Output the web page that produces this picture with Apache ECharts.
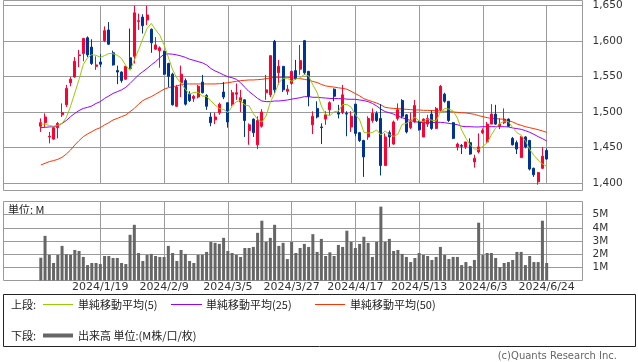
<!DOCTYPE html>
<html><head><meta charset="utf-8">
<script src="https://cdn.jsdelivr.net/npm/echarts@6/dist/echarts.min.js"></script>
<style>html,body{margin:0;padding:0;background:#fff}#c{width:638px;height:362px}</style>
</head><body><div id="c"></div>
<script>
const dates = ['2023/12/26','2023/12/27','2023/12/28','2023/12/29',
'2024/1/4','2024/1/5','2024/1/9','2024/1/10','2024/1/11','2024/1/12','2024/1/15','2024/1/16','2024/1/17','2024/1/18','2024/1/19',
'2024/1/22','2024/1/23','2024/1/24','2024/1/25','2024/1/26','2024/1/29','2024/1/30','2024/1/31','2024/2/1','2024/2/2','2024/2/5','2024/2/6','2024/2/7','2024/2/8','2024/2/9',
'2024/2/13','2024/2/14','2024/2/15','2024/2/16','2024/2/19','2024/2/20','2024/2/21','2024/2/22','2024/2/26','2024/2/27','2024/2/28','2024/2/29','2024/3/1','2024/3/4','2024/3/5',
'2024/3/6','2024/3/7','2024/3/8','2024/3/11','2024/3/12','2024/3/13','2024/3/14','2024/3/15','2024/3/18','2024/3/19','2024/3/21','2024/3/22','2024/3/25','2024/3/26','2024/3/27',
'2024/3/28','2024/3/29','2024/4/1','2024/4/2','2024/4/3','2024/4/4','2024/4/5','2024/4/8','2024/4/9','2024/4/10','2024/4/11','2024/4/12','2024/4/15','2024/4/16','2024/4/17',
'2024/4/18','2024/4/19','2024/4/22','2024/4/23','2024/4/24','2024/4/25','2024/4/26','2024/4/30','2024/5/1','2024/5/2','2024/5/7','2024/5/8','2024/5/9','2024/5/10','2024/5/13',
'2024/5/14','2024/5/15','2024/5/16','2024/5/17','2024/5/20','2024/5/21','2024/5/22','2024/5/23','2024/5/24','2024/5/27','2024/5/28','2024/5/29','2024/5/30','2024/5/31','2024/6/3',
'2024/6/4','2024/6/5','2024/6/6','2024/6/7','2024/6/10','2024/6/11','2024/6/12','2024/6/13','2024/6/14','2024/6/17','2024/6/18','2024/6/19','2024/6/20','2024/6/21','2024/6/24'];

const opens = [1480,1485,1465,1462,1478,1496,1510,1541,1549,1579,
1582,1604,1591,1564,1570,1600,1615,1583,1558,1556,
1546,1576,1578,1627,1633,1629,1616,1588,1586,1585,
1568,1553,1508,1541,1544,1525,1519,1521,1542,1523,
1493,1489,1499,1528,1513,1511,1525,1514,1517,1474,
1490,1454,1480,1527,1524,1599,1555,1564,1529,1540,
1558,1560,1600,1557,1482,1505,1479,1490,1503,1532,
1499,1499,1498,1479,1511,1471,1460,1465,1488,1498,
1491,1425,1471,1455,1491,1516,1496,1478,1486,1486,
1465,1483,1497,1477,1503,1525,1515,1485,1451,1453,
1451,1457,1430,1444,1471,1458,1483,1497,1480,1485,
1490,1463,1457,1436,1465,1460,1421,1402,1421,1446];
const highs = [1491,1498,1472,1479,1486,1512,1538,1549,1577,1587,
1604,1606,1602,1578,1581,1620,1626,1586,1565,1557,
1564,1617,1649,1638,1637,1649,1617,1605,1592,1586,
1569,1555,1538,1565,1547,1529,1524,1538,1552,1525,
1499,1499,1513,1542,1513,1531,1540,1531,1518,1484,
1491,1494,1504,1552,1579,1601,1573,1564,1538,1558,
1573,1594,1601,1557,1501,1515,1484,1501,1515,1533,
1510,1538,1501,1501,1511,1472,1461,1494,1505,1501,
1511,1470,1474,1488,1512,1518,1497,1499,1517,1488,
1491,1496,1502,1507,1538,1527,1515,1486,1457,1455,
1458,1463,1440,1470,1477,1486,1511,1510,1491,1505,
1491,1465,1460,1466,1466,1461,1422,1416,1451,1449];
const lows = [1472,1479,1456,1461,1463,1493,1507,1536,1548,1563,
1571,1577,1566,1559,1563,1598,1594,1565,1539,1541,
1545,1560,1568,1615,1610,1622,1583,1587,1562,1552,
1535,1509,1507,1521,1509,1514,1514,1519,1526,1503,
1480,1483,1496,1518,1478,1508,1517,1500,1465,1454,
1465,1448,1478,1517,1521,1526,1538,1528,1524,1538,
1545,1552,1552,1508,1469,1491,1455,1482,1496,1515,
1491,1497,1466,1472,1466,1458,1409,1461,1485,1486,
1411,1425,1451,1454,1488,1491,1470,1476,1485,1474,
1465,1479,1475,1476,1501,1513,1486,1462,1446,1441,
1448,1440,1422,1442,1469,1457,1483,1482,1476,1483,
1479,1453,1441,1436,1449,1418,1409,1398,1420,1433];
const closes = [1485,1493,1466,1478,1484,1499,1533,1546,1571,1580,
1603,1580,1568,1566,1567,1614,1595,1566,1556,1544,
1564,1561,1639,1628,1621,1636,1597,1594,1590,1553,
1550,1510,1535,1553,1511,1516,1522,1536,1527,1508,
1485,1493,1511,1521,1486,1527,1527,1520,1488,1482,
1471,1488,1500,1531,1579,1531,1564,1531,1532,1557,
1547,1572,1555,1522,1494,1493,1478,1496,1513,1522,
1497,1524,1497,1494,1470,1460,1437,1491,1498,1488,
1425,1465,1465,1486,1503,1494,1472,1486,1509,1475,
1490,1491,1477,1505,1536,1515,1488,1463,1455,1452,
1458,1441,1435,1451,1474,1483,1497,1483,1483,1490,
1480,1454,1448,1465,1451,1420,1412,1415,1438,1434];

const ma5 = [1483,1483,1481,1480,1481.2,1484,1492,1508,1526.6,1545.8,
1566.6,1576,1580.4,1579.4,1576.8,1579,1582,1581.6,1579.6,1575,
1565,1558.2,1572.8,1587.2,1602.6,1617,1624.2,1615.2,1607.6,1594,
1576.8,1559.4,1547.6,1540.2,1531.8,1525,1527.4,1527.6,1522.4,1521.8,
1515.6,1509.8,1504.8,1503.6,1499.2,1507.6,1514.4,1516.2,1509.6,1508.8,
1497.6,1489.8,1485.8,1494.4,1513.8,1525.8,1541,1547.2,1547.4,1543,
1546.2,1547.8,1552.6,1550.6,1538,1527.2,1508.4,1496.6,1494.8,1500.4,
1501.2,1510.4,1510.6,1506.8,1496.4,1489,1471.6,1470.4,1471.2,1474.8,
1467.8,1473.4,1468.2,1465.8,1468.8,1482.6,1484,1488.2,1492.8,1487.2,
1486.4,1490.2,1488.4,1487.6,1499.8,1504.8,1504.2,1501.4,1491.4,1474.6,
1463.2,1453.8,1448.2,1447.4,1451.8,1456.8,1468,1477.6,1484,1487.2,
1486.6,1478,1471,1467.4,1459.6,1447.6,1439.2,1432.6,1427.2,1423.8];
const ma25 = [1478,1478.5,1479,1479.4,1480.8,1484,1488,1493.5,1498,1502,
1505,1506.5,1508.4,1512,1514.5,1519,1522.4,1526,1528.5,1531,
1534.6,1540,1546,1552,1556.5,1561,1566,1570.6,1576,1581,
1581.5,1581,1580,1578.5,1576.6,1574,1572.4,1570.6,1569,1566,
1561,1557.5,1555,1552,1549.5,1548,1545.8,1541,1534.6,1528.5,
1524,1519,1515.4,1514.5,1514.5,1515.4,1515.4,1516,1516.8,1518,
1519,1520,1521.5,1521.5,1520.6,1520.6,1520,1519.6,1519,1519,
1518.7,1518.7,1518,1517.8,1517.8,1516.8,1516,1514.5,1512,1508.4,
1504,1500.5,1499,1497,1494.4,1492,1490,1488,1486.4,1485.5,
1485,1485,1485,1485.5,1485.5,1485,1484,1483,1482.2,1480,
1479.4,1479.4,1479,1479,1479.4,1479.4,1479.4,1479.4,1479.4,1479.4,
1479,1477.6,1476.6,1475.7,1473.8,1471.5,1468.7,1465.4,1462.6,1459.3];
const ma50 = [1425.7,1428,1430.4,1431.8,1433.6,1436.4,1441,1446.7,1453.7,1459.8,
1465.4,1469.2,1472.4,1475.7,1478,1481.8,1485,1488.8,1491,1493.5,
1495.8,1500.5,1505,1511,1515.9,1519,1521.5,1525,1528.5,1532,
1534,1535.5,1536.4,1538.3,1539.3,1539.3,1539.3,1539.3,1539.3,1539.3,
1539.3,1539.3,1539.7,1540.2,1541,1542,1543,1544,1544.4,1544.9,
1544.9,1545.3,1545.8,1546.7,1547.7,1548.6,1548.6,1548.6,1548.6,1548,
1547,1546.7,1545.8,1544.5,1542.8,1541.3,1538.6,1536.6,1535.6,1534.9,
1533.9,1533.1,1531.9,1529,1525.8,1522.6,1518.6,1516.5,1514.6,1512.5,
1510,1506.5,1505.6,1505,1504.7,1504.2,1503.7,1503.3,1502.8,1502.8,
1502.3,1502.3,1501.9,1501.9,1501.4,1501,1500.5,1500,1499.5,1499,
1498.6,1497.7,1496.7,1494.9,1493.5,1492,1491,1490.7,1490.2,1489.7,
1487.9,1486,1483.2,1481.3,1479.4,1478,1476.6,1475.2,1473.4,1471.5];
const volumes = [1.73,3.39,1.94,1.33,1.94,2.63,1.99,1.94,2.32,2.24,
1.79,1.17,1.33,1.33,1.25,1.86,1.86,1.71,1.71,1.33,
1.25,3.47,4.23,2.09,1.48,1.94,2.02,1.86,1.79,1.79,
2.63,2.09,1.48,2.32,2.02,1.48,1.33,1.94,1.94,2.17,
2.93,2.86,2.78,3.24,2.24,2.09,1.94,1.79,2.47,2.47,
2.55,3.62,4.54,2.93,3.24,4.23,2.63,2.86,1.63,2.93,
2.09,2.47,2.78,2.55,3.52,2.17,3.16,1.86,2.14,1.86,
2.70,2.55,3.78,2.93,2.47,2.78,3.32,2.86,1.79,2.93,
5.61,2.93,3.16,2.24,2.32,2.02,1.79,1.40,1.71,2.09,
1.94,1.86,1.56,1.79,2.55,1.94,1.63,1.79,1.79,1.17,
1.40,1.10,1.56,4.39,1.94,2.09,2.09,1.71,1.02,1.33,
1.40,1.56,2.17,2.17,1.17,1.86,1.40,1.40,4.54,1.33];

const xTickDates = ['2024/1/19','2024/2/9','2024/3/5','2024/3/27','2024/4/17','2024/5/13','2024/6/3','2024/6/24'];
const priceMin = 1400, priceMax = 1650, priceStep = 50;
const volMin = 0, volMax = 6, volStep = 1;
const volLabelled = [1,2,3,4,5];

const PAD_L = 9, PAD_R = 9;
const cats = [];
for (let i = 0; i < PAD_L; i++) cats.push('_l' + i);
dates.forEach(d => cats.push(d));
for (let i = 0; i < PAD_R; i++) cats.push('_r' + i);
const pad = Array(PAD_L).fill('-');
const candleData = pad.concat(dates.map((d, i) => [opens[i], closes[i], lows[i], highs[i]]));
const ma5Data = pad.concat(ma5), ma25Data = pad.concat(ma25), ma50Data = pad.concat(ma50);
const volData = pad.concat(volumes);
const isTick = (idx) => xTickDates.indexOf(cats[idx]) >= 0;

const GRID = '#9a9a9a';
const FONT = 'DejaVu Sans';
const CJK = '"Noto Sans CJK JP", "DejaVu Sans"';
const UP = '#ff0033', DOWN = '#003399';

const chart = echarts.init(document.getElementById('c'), null, {renderer: 'canvas'});
const hiddenVal = (g) => ({type: 'value', gridIndex: g, show: false, min: 0, max: 1});
chart.setOption({
  animation: false,
  backgroundColor: '#fff',
  grid: [
    {left: 2.54, right: 53.07, top: 5, height: 178.3},
    {left: 3.5, right: 55.5, top: 5, height: 178.3},
    {left: 3.5, width: 579, top: 0.5, height: 190, show: true, borderColor: GRID, borderWidth: 1, backgroundColor: 'transparent'},
    {left: 2.54, right: 53.07, top: 201.5, height: 79},
    {left: 3.5, width: 579, top: 201.5, height: 79, show: true, borderColor: GRID, borderWidth: 1, backgroundColor: 'transparent'}
  ],
  xAxis: [
    {type: 'category', gridIndex: 0, data: cats, boundaryGap: false,
      axisLine: {show: false}, axisTick: {show: false}, axisLabel: {show: false},
      splitLine: {show: true, interval: isTick, lineStyle: {color: GRID, width: 1}}},
    hiddenVal(1), hiddenVal(2),
    {type: 'category', gridIndex: 3, data: cats, boundaryGap: false,
      axisLine: {show: false}, axisTick: {show: false},
      axisLabel: {show: true, interval: isTick, margin: 1, color: '#333', fontFamily: FONT, fontSize: 11},
      splitLine: {show: true, interval: isTick, lineStyle: {color: GRID, width: 1}}},
    hiddenVal(4)
  ],
  yAxis: [
    {type: 'value', gridIndex: 0, min: priceMin, max: priceMax, show: false},
    {type: 'value', gridIndex: 1, min: priceMin, max: priceMax, interval: priceStep, position: 'right',
      axisLine: {show: false}, axisTick: {show: true, length: 4, lineStyle: {color: GRID}},
      axisLabel: {margin: 10, color: '#333', fontFamily: FONT, fontSize: 10.5,
        formatter: v => v.toLocaleString('en-US')},
      splitLine: {show: true, lineStyle: {color: GRID, width: 1}}},
    hiddenVal(2),
    {type: 'value', gridIndex: 3, min: volMin, max: volMax, show: false},
    {type: 'value', gridIndex: 4, min: volMin, max: volMax, interval: volStep, position: 'right',
      axisLine: {show: false},
      axisTick: {show: true, length: 4, lineStyle: {color: GRID}, customValues: volLabelled},
      axisLabel: {margin: 10, color: '#333', fontFamily: FONT, fontSize: 10.5, customValues: volLabelled,
        formatter: v => (volLabelled.indexOf(v) >= 0 ? v + 'M' : '')},
      splitLine: {show: true, lineStyle: {color: GRID, width: 1}}}
  ],
  series: [
    {type: 'line', xAxisIndex: 0, yAxisIndex: 0, data: ma50Data, showSymbol: false, symbol: 'none',
      lineStyle: {color: '#ff3300', width: 1}, z: 3},
    {type: 'line', xAxisIndex: 0, yAxisIndex: 0, data: ma25Data, showSymbol: false, symbol: 'none',
      lineStyle: {color: '#9900ff', width: 1}, z: 3},
    {type: 'candlestick', xAxisIndex: 0, yAxisIndex: 0, data: candleData, barWidth: 2.6, clip: false,
      itemStyle: {color: UP, color0: DOWN, borderColor: UP, borderColor0: DOWN, borderWidth: 1}, z: 4},
    {type: 'line', xAxisIndex: 0, yAxisIndex: 0, data: ma5Data, showSymbol: false, symbol: 'none',
      lineStyle: {color: '#99cc00', width: 1}, z: 5},
    {type: 'bar', xAxisIndex: 3, yAxisIndex: 3, data: volData, barWidth: 3,
      itemStyle: {color: '#666666'}}
  ],
  graphic: [
    {type: 'text', x: 8, y: 209.5, style: {text: '単位: M', font: '11px ' + CJK, fill: '#222', textVerticalAlign: 'middle', verticalAlign: 'middle'}},
    {type: 'rect', shape: {x: 3.5, y: 294.5, width: 632, height: 52}, style: {fill: 'none', stroke: '#222', lineWidth: 1}},
    {type: 'text', x: 11, y: 304.5, style: {text: '上段:', font: '11px ' + CJK, fill: '#222', textVerticalAlign: 'middle', verticalAlign: 'middle'}},
    {type: 'line', shape: {x1: 43, y1: 304.5, x2: 73, y2: 304.5}, style: {stroke: '#99cc00', lineWidth: 1}},
    {type: 'text', x: 78, y: 304.5, style: {text: '単純移動平均(5)', font: '11px ' + CJK, fill: '#222', textVerticalAlign: 'middle', verticalAlign: 'middle'}},
    {type: 'line', shape: {x1: 171, y1: 304.5, x2: 202, y2: 304.5}, style: {stroke: '#9900ff', lineWidth: 1}},
    {type: 'text', x: 206, y: 304.5, style: {text: '単純移動平均(25)', font: '11px ' + CJK, fill: '#222', textVerticalAlign: 'middle', verticalAlign: 'middle'}},
    {type: 'line', shape: {x1: 315, y1: 304.5, x2: 345, y2: 304.5}, style: {stroke: '#ff3300', lineWidth: 1}},
    {type: 'text', x: 350, y: 304.5, style: {text: '単純移動平均(50)', font: '11px ' + CJK, fill: '#222', textVerticalAlign: 'middle', verticalAlign: 'middle'}},
    {type: 'text', x: 11, y: 335.5, style: {text: '下段:', font: '11px ' + CJK, fill: '#222', textVerticalAlign: 'middle', verticalAlign: 'middle'}},
    {type: 'line', shape: {x1: 43, y1: 335.5, x2: 73, y2: 335.5}, style: {stroke: '#666666', lineWidth: 4}},
    {type: 'text', x: 78, y: 335.5, style: {text: '出来高 単位:(M株/口/枚)', font: '11px ' + CJK, fill: '#222', textVerticalAlign: 'middle', verticalAlign: 'middle'}},
    {type: 'text', x: 617, y: 356.5, style: {text: '(c)Quants Research Inc.', font: '10px ' + FONT, fill: '#666', textAlign: 'right', align: 'right', textVerticalAlign: 'middle', verticalAlign: 'middle'}}
  ]
});
</script>
</body></html>
